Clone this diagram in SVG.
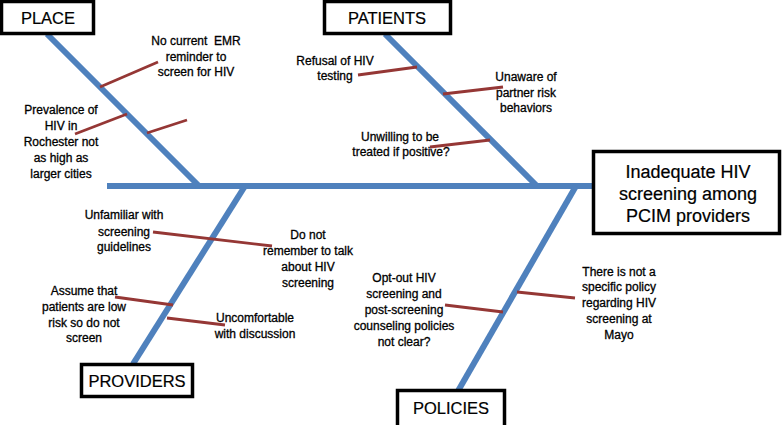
<svg xmlns="http://www.w3.org/2000/svg" width="782" height="425" viewBox="0 0 782 425">
<style>
.bg{fill:#ffffff}
.box{fill:#ffffff;stroke:#000000;stroke-width:3.5}
.title{font-family:"Liberation Sans",Arial,sans-serif;font-size:16.5px;fill:#000000;text-anchor:middle;stroke:#000000;stroke-width:0.2}
.main{font-family:"Liberation Sans",Arial,sans-serif;font-size:18px;fill:#000000;text-anchor:middle;stroke:#000000;stroke-width:0.2}
.lbl{font-family:"Liberation Sans",Arial,sans-serif;font-size:12px;fill:#000000;text-anchor:middle;stroke:#000000;stroke-width:0.3;white-space:pre}
.bone{stroke:#4F81BD;stroke-width:6;fill:none}
.sub{stroke:#953735;stroke-width:2.8;fill:none}
</style>
<rect class="bg" x="0" y="0" width="782" height="425"/>
<g id="connectors">
<line class="bone" x1="107" y1="186" x2="594" y2="186"/>
<line class="bone" x1="47" y1="34" x2="199" y2="186"/>
<line class="bone" x1="385" y1="34" x2="537" y2="186"/>
<line class="bone" x1="245" y1="186" x2="133" y2="364"/>
<line class="bone" x1="576" y1="186" x2="458" y2="391"/>
<line class="sub" x1="100" y1="87" x2="158" y2="62"/>
<line class="sub" x1="127" y1="114" x2="75" y2="134"/>
<line class="sub" x1="147" y1="133" x2="187" y2="120"/>
<line class="sub" x1="417" y1="67" x2="358" y2="75"/>
<line class="sub" x1="443" y1="94" x2="503" y2="87"/>
<line class="sub" x1="490" y1="140" x2="430" y2="147"/>
<line class="sub" x1="153" y1="232" x2="272" y2="246"/>
<line class="sub" x1="115" y1="297" x2="173" y2="305"/>
<line class="sub" x1="167" y1="318" x2="225" y2="325"/>
<line class="sub" x1="445" y1="305" x2="503" y2="312"/>
<line class="sub" x1="517" y1="292" x2="575" y2="298"/>
</g>
<g id="place">
<rect class="box" x="1.5" y="1.5" width="92" height="32"/>
<text class="title" x="48" y="24">PLACE</text>
</g>
<g id="patients">
<rect class="box" x="324.5" y="1.5" width="126" height="32"/>
<text class="title" x="387" y="24">PATIENTS</text>
</g>
<g id="effect">
<rect class="box" x="593.5" y="151.5" width="186" height="82"/>
<text class="main" x="688" y="178">Inadequate HIV</text>
<text class="main" x="688" y="200">screening among</text>
<text class="main" x="688" y="222">PCIM providers</text>
</g>
<g id="providers">
<rect class="box" x="81.5" y="364.5" width="111" height="32"/>
<text class="title" x="137" y="387">PROVIDERS</text>
</g>
<g id="policies">
<rect class="box" x="397.5" y="390.5" width="107" height="40"/>
<text class="title" x="451" y="414">POLICIES</text>
</g>
<g id="place-causes">
<text class="lbl" x="196" y="45" xml:space="preserve">No current  EMR</text>
<text class="lbl" x="196" y="61">reminder to</text>
<text class="lbl" x="196" y="76">screen for HIV</text>
<text class="lbl" x="61" y="114">Prevalence of</text>
<text class="lbl" x="61" y="130">HIV in</text>
<text class="lbl" x="61" y="146">Rochester not</text>
<text class="lbl" x="61" y="162">as high as</text>
<text class="lbl" x="61" y="178">larger cities</text>
</g>
<g id="patients-causes">
<text class="lbl" x="335" y="65">Refusal of HIV</text>
<text class="lbl" x="335" y="80">testing</text>
<text class="lbl" x="526" y="81">Unaware of</text>
<text class="lbl" x="526" y="97">partner risk</text>
<text class="lbl" x="526" y="112">behaviors</text>
<text class="lbl" x="400" y="141">Unwilling to be</text>
<text class="lbl" x="401" y="156">treated if positive?</text>
</g>
<g id="providers-causes">
<text class="lbl" x="124" y="219">Unfamiliar with</text>
<text class="lbl" x="124" y="236">screening</text>
<text class="lbl" x="124" y="251">guidelines</text>
<text class="lbl" x="308" y="239">Do not</text>
<text class="lbl" x="308" y="255">remember to talk</text>
<text class="lbl" x="308" y="271">about HIV</text>
<text class="lbl" x="308" y="287">screening</text>
<text class="lbl" x="84" y="295">Assume that</text>
<text class="lbl" x="84" y="311">patients are low</text>
<text class="lbl" x="84" y="327">risk so do not</text>
<text class="lbl" x="84" y="342">screen</text>
<text class="lbl" x="255" y="322">Uncomfortable</text>
<text class="lbl" x="255" y="338">with discussion</text>
</g>
<g id="policies-causes">
<text class="lbl" x="404" y="282">Opt-out HIV</text>
<text class="lbl" x="404" y="298">screening and</text>
<text class="lbl" x="404" y="314">post-screening</text>
<text class="lbl" x="404" y="330">counseling policies</text>
<text class="lbl" x="404" y="346">not clear?</text>
<text class="lbl" x="619" y="276">There is not a</text>
<text class="lbl" x="619" y="291">specific policy</text>
<text class="lbl" x="619" y="307">regarding HIV</text>
<text class="lbl" x="619" y="323">screening at</text>
<text class="lbl" x="619" y="339">Mayo</text>
</g>
</svg>
